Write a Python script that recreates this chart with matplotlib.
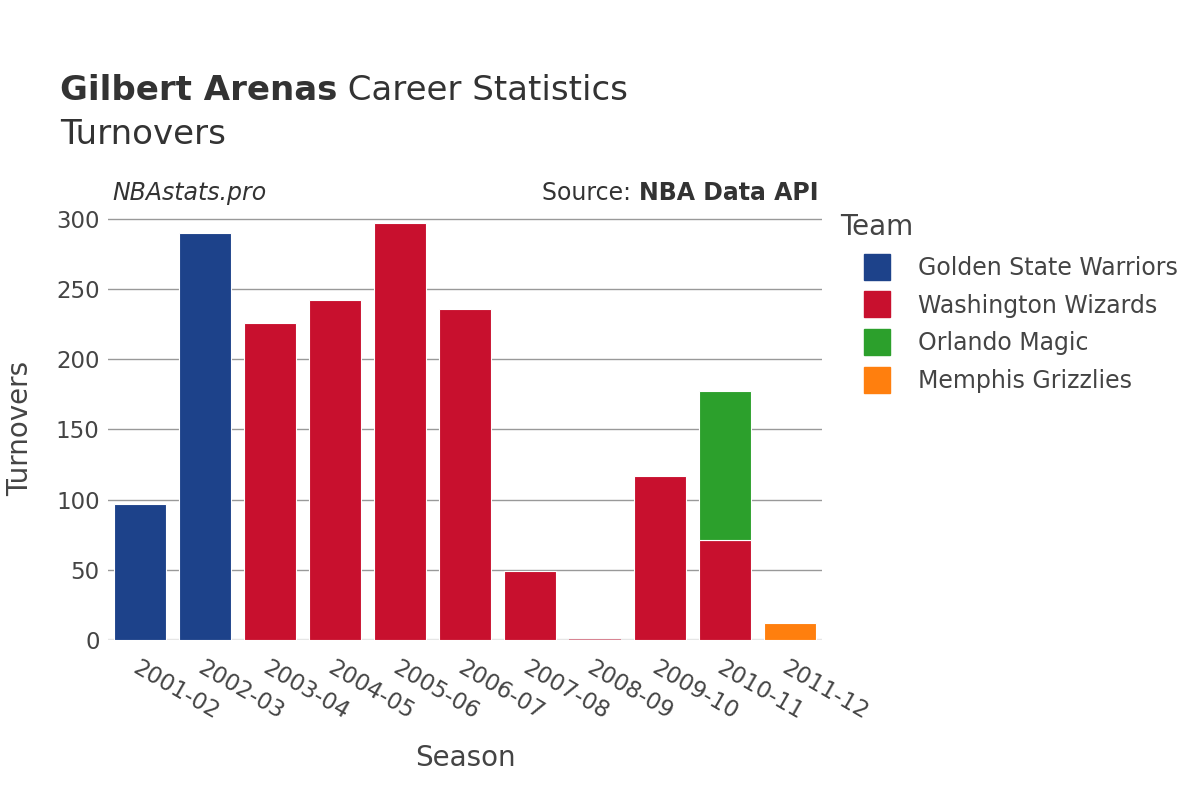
import matplotlib.pyplot as plt
import numpy as np
from matplotlib.lines import Line2D

seasons = ["2001-02", "2002-03", "2003-04", "2004-05", "2005-06", "2006-07",
           "2007-08", "2008-09", "2009-10", "2010-11", "2011-12"]
teams = ["Golden State Warriors", "Washington Wizards", "Orlando Magic", "Memphis Grizzlies"]
colors = ["#1d428a", "#c8102e", "#2ca02c", "#ff7f0e"]

gsw = [97, 290, 0, 0, 0, 0, 0, 0, 0, 0, 0]
was = [0, 0, 226, 242, 297, 236, 49, 1, 117, 71, 0]
orl = [0, 0, 0, 0, 0, 0, 0, 0, 0, 106, 0]
mem = [0, 0, 0, 0, 0, 0, 0, 0, 0, 0, 12]
series = [gsw, was, orl, mem]

fig = plt.figure(figsize=(12, 8), dpi=100)
ax = fig.add_axes([0.09, 0.2, 0.595, 0.53])

x = np.arange(len(seasons))
bottom = np.zeros(len(seasons))
for vals, col in zip(series, colors):
    vals = np.array(vals, dtype=float)
    for xi, b, v in zip(x, bottom, vals):
        if v <= 0:
            continue
        if v > 3:
            ax.bar(xi, v, bottom=b, width=0.8, color=col, edgecolor="white",
                   linewidth=0.8, zorder=3)
        else:
            # tiny bar, drawn as a faint sliver like the original
            ax.bar(xi, v, bottom=b, width=0.8, color=col, alpha=0.45,
                   linewidth=0, zorder=3)
    bottom += vals

ax.set_xlim(-0.5, len(seasons) - 0.5)
ax.set_ylim(0, 302)
ax.set_yticks([0, 50, 100, 150, 200, 250, 300])
ax.grid(axis="y", color="#999999", linewidth=1, zorder=0)
ax.axhline(0, color="#e6e6e6", linewidth=2.5, zorder=2)
for s in ax.spines.values():
    s.set_visible(False)
ax.tick_params(axis="both", length=0, labelsize=16.5, colors="#444444")
ax.set_xticks(x)
ax.set_xticklabels(seasons, rotation=-30, ha="left", va="top",
                   rotation_mode="anchor")
ax.tick_params(axis="x", pad=12)
ax.tick_params(axis="y", pad=6)
ax.set_xlabel("Season", fontsize=20, color="#444444", labelpad=14)
ax.set_ylabel("Turnovers", fontsize=20, color="#444444", labelpad=16)

renderer = fig.canvas.get_renderer()
inv = fig.transFigure.inverted()

t1 = fig.text(0.05, 0.875, "Gilbert Arenas", fontsize=24.5, fontweight="bold",
              color="#333333")
bb = t1.get_window_extent(renderer)
fig.text(inv.transform((bb.x1, bb.y0))[0], 0.875, " Career Statistics",
         fontsize=24.5, color="#333333")
fig.text(0.05, 0.82, "Turnovers", fontsize=24.5, color="#333333")
fig.text(0.094, 0.75, "NBAstats.pro", fontsize=17, style="italic",
         color="#333333")
t2 = fig.text(0.682, 0.75, "NBA Data API", fontsize=17, fontweight="bold",
              color="#333333", ha="right")
bb = t2.get_window_extent(renderer)
fig.text(inv.transform((bb.x0, bb.y0))[0], 0.75, "Source: ", fontsize=17,
         color="#333333", ha="right")

fig.text(0.70, 0.706, "Team", fontsize=20, color="#444444")
handles = [Line2D([0], [0], marker="s", linestyle="", markersize=19,
                  markerfacecolor=c, markeredgecolor=c) for c in colors]
leg = fig.legend(handles, teams, loc="upper left", bbox_to_anchor=(0.701, 0.695),
                 frameon=False, fontsize=17, labelspacing=0.58,
                 handletextpad=0.75, borderpad=0)
for t in leg.get_texts():
    t.set_color("#444444")

fig.savefig("out.png", dpi=100, facecolor="white")
